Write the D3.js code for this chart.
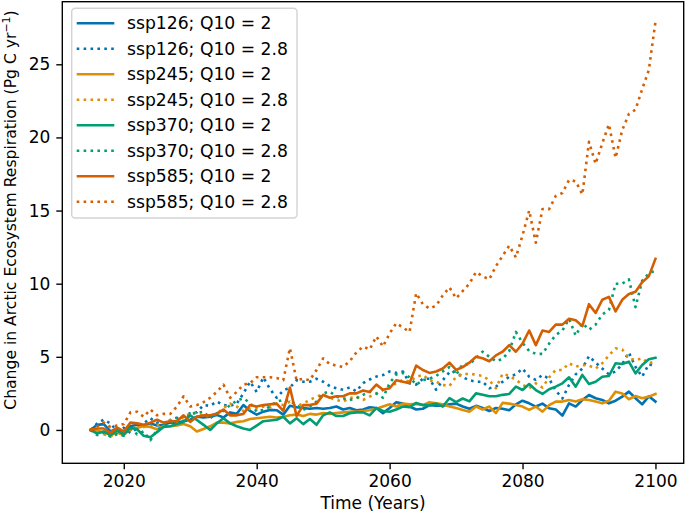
<!DOCTYPE html>
<html><head><meta charset="utf-8">
<script src="https://cdn.jsdelivr.net/npm/d3@7"></script>
<style>body{margin:0;background:#fff} svg{display:block} text{font-family:"DejaVu Sans",sans-serif;fill:#000}</style>
</head><body>
<svg id="chart" width="685" height="515"></svg>
<script>
const years = d3.range(2015, 2101);
const ssp126_q2 = [0.0,0.35,0.4,-0.1,0.1,-0.3,0.25,0.35,0.3,0.45,
 0.3,0.35,0.5,0.5,0.6,0.7,0.9,0.85,0.9,1.03,
 0.85,1.2,1.1,1.7,1.3,1.05,1.25,1.37,1.35,1.05,
 1.65,1.55,1.5,1.45,1.5,1.45,1.5,1.6,1.4,1.5,
 1.35,1.4,1.55,1.5,1.15,1.5,1.9,1.8,1.6,1.4,
 1.45,1.7,1.65,1.65,1.75,1.8,1.6,1.45,1.65,1.5,
 1.3,1.5,1.45,1.35,1.75,2.0,1.82,1.6,1.8,1.48,
 1.4,0.98,1.82,1.6,2.05,2.39,2.17,2.05,1.82,2.0,
 2.28,2.62,2.17,1.75,2.3,1.94];
const ssp126_q28 = [0.0,0.45,0.7,0.45,-0.1,0.15,-0.2,0.1,0.45,0.8,
 0.5,0.4,0.68,0.84,0.91,1.14,1.21,1.7,1.65,1.94,
 1.7,1.65,1.8,2.5,3.3,2.6,3.6,2.8,2.2,2.7,
 2.9,3.4,3.3,3.3,3.5,3.3,3.0,2.85,2.75,2.9,
 2.65,3.2,3.45,3.65,3.75,4.0,3.9,4.0,3.2,3.1,
 3.5,3.5,2.75,3.4,3.95,4.0,3.6,3.4,3.3,3.3,
 2.85,2.96,3.3,3.64,3.8,4.2,3.64,3.42,3.76,3.5,
 2.7,2.15,3.08,3.8,4.2,5.05,4.6,4.2,3.8,4.0,
 4.5,5.3,4.3,3.64,4.5,4.35];
const ssp245_q2 = [0.0,-0.05,-0.15,-0.35,-0.2,-0.35,0.1,0.15,0.25,0.2,
 0.05,0.25,0.25,0.3,0.4,0.25,-0.1,0.07,0.25,0.5,
 0.5,0.45,0.55,0.6,0.75,0.8,0.85,0.9,0.85,0.9,
 1.0,1.05,0.95,1.1,1.05,1.15,1.1,1.15,1.2,1.25,
 1.25,1.3,1.35,1.45,1.6,1.75,1.6,1.8,1.75,1.78,
 1.7,1.9,1.82,1.75,1.6,1.5,1.37,1.25,1.6,1.4,
 1.6,1.15,1.85,1.8,1.7,1.6,1.37,1.6,1.25,1.7,
 1.94,1.94,2.05,1.94,2.1,2.05,1.94,1.82,2.0,2.62,
 2.5,2.1,2.32,2.17,2.28,2.46];
const ssp245_q28 = [0.0,-0.1,-0.3,-0.45,-0.2,-0.1,0.0,0.1,0.2,0.25,
 0.34,0.45,0.68,0.5,0.9,1.1,1.2,0.9,1.0,1.1,
 1.5,1.8,1.6,1.3,1.45,1.48,1.6,1.55,1.8,1.7,
 1.94,1.6,1.82,2.05,2.3,2.39,2.2,2.05,1.94,2.17,
 2.28,2.05,2.28,2.5,2.73,2.9,3.2,3.42,3.3,3.64,
 3.76,3.4,3.3,3.08,3.0,3.64,3.76,3.87,3.76,3.7,
 3.4,2.85,3.85,3.7,3.42,3.1,2.85,3.19,2.9,3.6,
 4.1,4.1,4.56,4.33,4.44,4.4,4.2,4.56,5.1,5.58,
 5.5,4.9,4.78,4.9,4.56,4.7];
const ssp370_q2 = [0.0,-0.25,-0.1,-0.35,-0.05,-0.3,0.15,0.05,-0.4,-0.5,
 -0.15,0.2,0.25,0.4,0.55,1.0,0.68,0.35,0.0,0.45,
 0.8,0.45,0.25,0.1,0.0,0.3,0.6,0.65,0.7,0.9,
 0.45,0.8,0.4,0.75,0.35,1.0,1.2,0.95,0.95,1.14,
 1.2,1.2,1.0,1.5,1.3,1.25,1.4,1.6,1.55,1.85,
 1.7,1.7,1.8,1.6,2.17,1.9,2.15,1.95,2.5,2.4,
 2.3,2.3,2.4,2.46,2.96,2.73,3.14,2.73,2.46,2.78,
 2.96,3.19,3.6,2.96,3.76,3.14,3.3,3.64,3.69,4.56,
 4.51,4.67,3.87,4.44,4.83,4.94];
const ssp370_q28 = [0.0,-0.35,-0.2,-0.45,-0.3,-0.4,0.2,-0.3,-0.1,-0.7,
 0.0,0.2,0.45,0.8,0.6,1.1,1.15,1.25,0.8,1.14,
 1.3,1.7,2.0,2.17,1.85,1.25,1.37,1.6,1.94,2.05,
 2.0,1.7,1.37,1.6,1.94,2.5,2.62,2.28,2.17,2.05,
 2.17,2.4,2.62,2.5,2.2,3.2,3.8,3.9,3.6,3.1,
 3.4,3.5,3.7,4.0,4.3,3.76,4.5,4.5,4.9,5.35,
 5.0,4.7,4.85,5.4,6.7,5.95,5.4,5.2,5.2,5.9,
 6.5,6.8,7.6,6.45,7.3,6.85,7.2,7.9,8.2,10.0,
 10.0,10.3,8.4,10.2,10.7,10.9];
const ssp585_q2 = [0.0,0.1,0.1,-0.2,0.15,-0.1,0.5,0.45,0.35,0.5,
 0.7,0.5,0.6,0.6,1.0,0.55,0.9,1.0,1.0,1.1,
 1.4,1.0,1.0,1.1,1.7,1.6,1.7,1.75,1.8,1.3,
 2.9,0.95,1.7,1.7,1.8,2.4,2.2,2.3,2.3,2.5,
 2.5,2.7,2.6,3.1,2.75,2.85,3.4,3.3,3.2,4.4,
 4.1,3.9,4.0,4.2,4.6,4.1,4.3,4.6,5.0,4.9,
 4.7,5.1,5.35,5.8,5.35,5.9,6.8,5.8,6.8,6.7,
 7.2,7.2,7.6,7.5,7.1,8.6,8.0,8.9,9.1,8.1,
 8.9,9.3,9.45,10.1,10.5,11.7];
const ssp585_q28 = [0.0,0.25,0.5,0.2,0.3,0.4,1.2,1.25,0.9,1.4,
 1.0,1.1,1.1,1.6,2.3,1.6,1.7,1.9,2.2,2.6,
 3.1,2.2,2.6,3.1,3.2,3.6,3.6,3.6,3.55,3.4,
 5.6,3.4,3.5,3.4,4.1,4.9,4.5,4.4,4.3,4.7,
 5.3,5.7,5.5,6.4,5.7,6.6,7.3,7.0,6.7,9.35,
 8.6,8.3,8.5,9.2,9.75,9.0,9.5,10.0,10.8,10.5,
 10.3,11.2,11.9,12.6,11.8,13.3,15.0,12.8,15.1,15.1,
 16.0,16.2,17.1,17.0,16.1,19.7,18.2,19.6,20.9,18.6,
 20.5,21.6,21.9,23.3,24.6,27.9];
const seriesNames = ["ssp126; Q10 = 2","ssp126; Q10 = 2.8","ssp245; Q10 = 2","ssp245; Q10 = 2.8",
  "ssp370; Q10 = 2","ssp370; Q10 = 2.8","ssp585; Q10 = 2","ssp585; Q10 = 2.8"];
const xTicks = [2020, 2040, 2060, 2080, 2100];
const yTicks = [0, 5, 10, 15, 20, 25];
const xLabel = "Time (Years)";

const palette = ["#0173b2","#0173b2","#de8f05","#de8f05","#029e73","#029e73","#d55e00","#d55e00"];
const seriesData = [ssp126_q2, ssp126_q28, ssp245_q2, ssp245_q28, ssp370_q2, ssp370_q28, ssp585_q2, ssp585_q28];
const series = seriesNames.map((n, i) => ({name: n, values: seriesData[i], color: palette[i], dotted: i % 2 === 1}));

const svg = d3.select("#chart");
const L = 62.3, R = 683.7, T = 1.7, B = 463.3;
const x = d3.scaleLinear().domain([2010.75, 2104.25]).range([L, R]);
const y = d3.scaleLinear().domain([-2.28, 29.28]).range([B, T]);
const LW = 2.6;

// lines
const line = d3.line().x((d, i) => x(years[i])).y(d => y(d));
const gLines = svg.append("g");
series.forEach(s => {
  gLines.append("path").datum(s.values)
    .attr("d", line).attr("fill", "none")
    .attr("stroke", s.color).attr("stroke-width", LW)
    .attr("stroke-linejoin", "round")
    .attr("stroke-linecap", s.dotted ? "butt" : "square")
    .attr("stroke-dasharray", s.dotted ? "2.6,4.3" : null);
});

// axes
const xAxis = svg.append("g").attr("transform", `translate(0,${B})`)
  .call(d3.axisBottom(x).tickValues(xTicks).tickFormat(d3.format("d")).tickSize(6).tickPadding(6));
const yAxis = svg.append("g").attr("transform", `translate(${L},0)`)
  .call(d3.axisLeft(y).tickValues(yTicks).tickFormat(d3.format("d")).tickSize(6).tickPadding(6));
[xAxis, yAxis].forEach(a => {
  a.select(".domain").remove();
  a.selectAll(".tick line").attr("stroke", "#000").attr("stroke-width", 1.38);
  a.selectAll(".tick text").attr("font-family", "DejaVu Sans").attr("font-size", 17).attr("fill", "#000");
});

// frame
svg.append("rect").attr("x", L).attr("y", T).attr("width", R - L).attr("height", B - T)
  .attr("fill", "none").attr("stroke", "#000").attr("stroke-width", 1.38);

// axis labels
svg.append("text").attr("x", (L + R) / 2).attr("y", 509).attr("text-anchor", "middle")
  .attr("font-size", 17).text(xLabel);
const yl = svg.append("text").attr("transform", "translate(16,210) rotate(-90)")
  .attr("text-anchor", "middle").attr("font-size", 15.6);
yl.append("tspan").text("Change in Arctic Ecosystem Respiration (Pg C yr");
yl.append("tspan").attr("font-size", 11).attr("dy", -6).text("\u22121");
yl.append("tspan").attr("dy", 6).text(")");

// legend
const lg = svg.append("g");
lg.append("rect").attr("x", 71.7).attr("y", 8.3).attr("width", 225.3).attr("height", 209.7)
  .attr("rx", 3.5).attr("fill", "rgba(255,255,255,0.8)").attr("stroke", "#d3d3d3").attr("stroke-width", 1.4);
series.forEach((s, i) => {
  const yy = 23.3 + i * 25.49;
  lg.append("line").attr("x1", 76.7).attr("x2", 114.3).attr("y1", yy).attr("y2", yy)
    .attr("stroke", s.color).attr("stroke-width", LW)
    .attr("stroke-dasharray", s.dotted ? "2.6,4.3" : null);
  lg.append("text").attr("x", 127).attr("y", yy + 6).attr("font-size", 17.2).text(s.name);
});
</script>
</body></html>
